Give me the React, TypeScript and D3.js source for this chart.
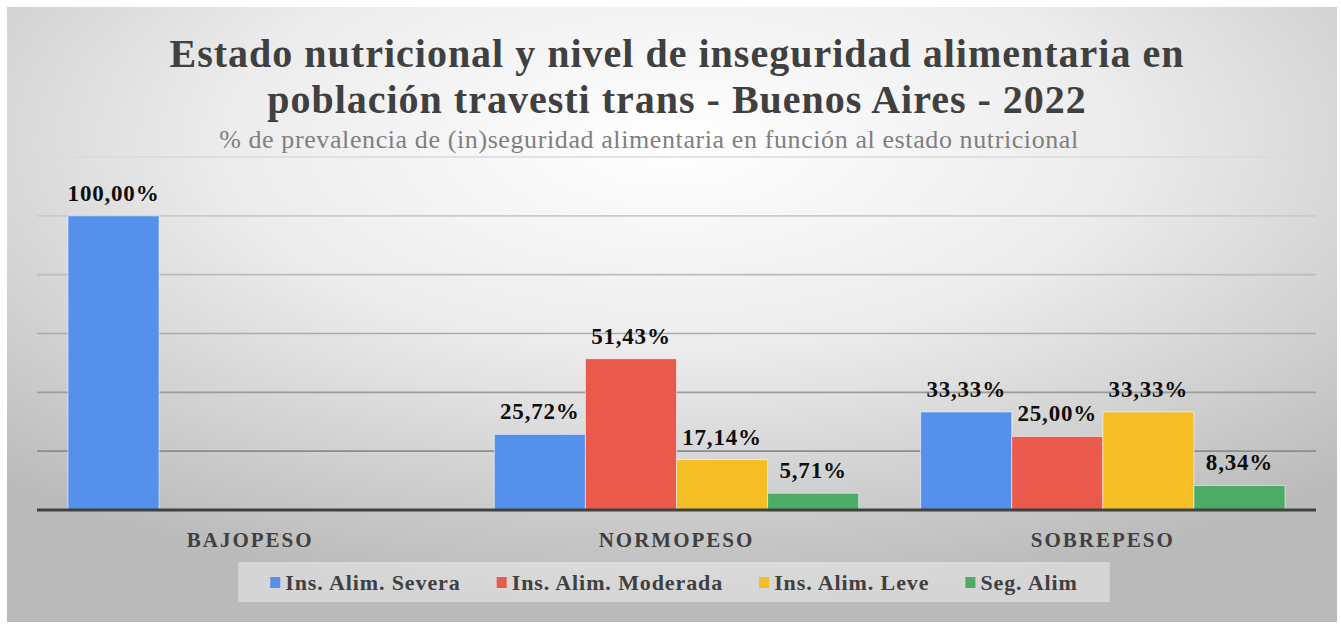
import React, { useRef, useEffect } from "react";
import * as d3 from "d3";

const categories = ["BAJOPESO", "NORMOPESO", "SOBREPESO"];
const seriesNames = ["Ins. Alim. Severa", "Ins. Alim. Moderada", "Ins. Alim. Leve", "Seg. Alim"];
const seriesColors = ["#5590ec", "#e9594c", "#f5bd26", "#4cac66"];
const severa = [100, 25.72, 33.33];
const moderada = [null, 51.43, 25.0];
const leve = [null, 17.14, 33.33];
const segAlim = [null, 5.71, 8.34];
const yTicks = [0, 20, 40, 60, 80, 100, 120];

const titleLines = [
  "Estado nutricional y nivel de inseguridad alimentaria en",
  "población travesti trans - Buenos Aires - 2022",
];
const subtitle = "% de prevalencia de (in)seguridad alimentaria en función al estado nutricional";

const W = 1341;
const H = 624;
const serif = "Liberation Serif, Tinos, Times New Roman, DejaVu Serif, serif";

const fmt = (v: number) => v.toFixed(2).replace(".", ",") + "%";

const App = () => {
  const svgRef = useRef<SVGSVGElement>(null);

  useEffect(() => {
    const svg = d3.select(svgRef.current);
    svg.selectAll("*").remove();

    const defs = svg.append("defs");
    const bg = defs.append("radialGradient")
      .attr("id", "bg")
      .attr("cx", "50%").attr("cy", "22%").attr("r", "75%");
    bg.append("stop").attr("offset", "0%").attr("stop-color", "#ffffff");
    bg.append("stop").attr("offset", "45%").attr("stop-color", "#ececec");
    bg.append("stop").attr("offset", "100%").attr("stop-color", "#bababa");

    const gridGrad = defs.append("linearGradient")
      .attr("id", "gridGrad")
      .attr("gradientUnits", "userSpaceOnUse")
      .attr("x1", 0).attr("y1", 150).attr("x2", 0).attr("y2", 460);
    gridGrad.append("stop").attr("offset", "0%").attr("stop-color", "#dcdcdc");
    gridGrad.append("stop").attr("offset", "100%").attr("stop-color", "#8a8a8a");

    // chart area
    svg.append("rect")
      .attr("x", 7).attr("y", 7)
      .attr("width", 1330).attr("height", 615)
      .attr("fill", "url(#bg)");

    const left = 37, right = 1316, top = 157, bottom = 510;

    const x0 = d3.scaleBand().domain(categories).range([left, right]);
    const x1 = d3.scaleBand().domain(seriesNames)
      .range([0, x0.bandwidth()]).paddingOuter(0.34);
    const y = d3.scaleLinear().domain([0, 120]).range([bottom, top]);

    // gridlines
    svg.append("g").selectAll("line")
      .data(yTicks.filter(t => t > 0))
      .enter().append("line")
      .attr("x1", left).attr("x2", right)
      .attr("y1", d => y(d)).attr("y2", d => y(d))
      .attr("stroke", "url(#gridGrad)")
      .attr("stroke-width", 1.6);

    // bars
    const seriesValues = [severa, moderada, leve, segAlim];
    const rows = seriesNames.flatMap((s, si) =>
      categories.map((c, ci) => ({ s, c, color: seriesColors[si], v: seriesValues[si][ci] }))
    ).filter(d => d.v != null);

    svg.append("g").selectAll("rect")
      .data(rows)
      .enter().append("rect")
      .attr("x", d => x0(d.c)! + x1(d.s)!)
      .attr("y", d => y(d.v as number))
      .attr("width", x1.bandwidth())
      .attr("height", d => bottom - y(d.v as number))
      .attr("fill", d => d.color)
      .attr("stroke", "rgba(255,255,255,0.55)")
      .attr("stroke-width", 1);

    // data labels
    svg.append("g").selectAll("text")
      .data(rows)
      .enter().append("text")
      .attr("x", d => x0(d.c)! + x1(d.s)! + x1.bandwidth() / 2)
      .attr("y", d => y(d.v as number) - 15)
      .attr("text-anchor", "middle")
      .attr("font-family", serif)
      .attr("font-weight", "bold")
      .attr("font-size", 23)
      .attr("letter-spacing", 0.8)
      .attr("fill", "#0d0d0d")
      .text(d => fmt(d.v as number));

    // x axis line
    svg.append("line")
      .attr("x1", left).attr("x2", right)
      .attr("y1", bottom).attr("y2", bottom)
      .attr("stroke", "#404040")
      .attr("stroke-width", 3);

    // category labels
    svg.append("g").selectAll("text")
      .data(categories)
      .enter().append("text")
      .attr("x", d => x0(d)! + x0.bandwidth() / 2)
      .attr("y", 547)
      .attr("text-anchor", "middle")
      .attr("font-family", serif)
      .attr("font-weight", "bold")
      .attr("font-size", 21)
      .attr("letter-spacing", 2)
      .attr("fill", "#404040")
      .text(d => d);

    // title
    svg.append("g").selectAll("text")
      .data(titleLines)
      .enter().append("text")
      .attr("x", 677)
      .attr("y", (d, i) => 67 + i * 46)
      .attr("text-anchor", "middle")
      .attr("font-family", serif)
      .attr("font-weight", "bold")
      .attr("font-size", 40)
      .attr("letter-spacing", 1)
      .attr("fill", "#404040")
      .text(d => d);

    svg.append("text")
      .attr("x", 649)
      .attr("y", 148)
      .attr("text-anchor", "middle")
      .attr("font-family", serif)
      .attr("font-size", 26)
      .attr("letter-spacing", 0.6)
      .attr("fill", "#7f7f7f")
      .text(subtitle);

    // legend
    const legendBox = svg.append("rect")
      .attr("y", 562).attr("height", 40)
      .attr("fill", "rgba(255,255,255,0.4)");
    const legend = svg.append("g");
    const markerSize = 10, markerGap = 5, itemGap = 36;
    let cursor = 0;
    seriesNames.forEach((name, i) => {
      const g = legend.append("g");
      g.append("rect")
        .attr("x", cursor).attr("y", 577)
        .attr("width", markerSize).attr("height", 11)
        .attr("fill", seriesColors[i]);
      const t = g.append("text")
        .attr("x", cursor + markerSize + markerGap)
        .attr("y", 590)
        .attr("font-family", serif)
        .attr("font-weight", "bold")
        .attr("font-size", 22)
        .attr("letter-spacing", 0.9)
        .attr("fill", "#404040")
        .text(name);
      const tw = (t.node() as SVGTextElement).getComputedTextLength();
      cursor += markerSize + markerGap + tw + itemGap;
    });
    const total = cursor - itemGap;
    const legendX = 674 - total / 2;
    legend.attr("transform", `translate(${legendX},0)`);
    legendBox.attr("x", legendX - 32).attr("width", total + 64);
  }, []);

  return (
    <svg
      ref={svgRef}
      width={W}
      height={H}
      style={{ position: "absolute", left: 0, top: 0, background: "#ffffff" }}
    />
  );
};

export default App;
